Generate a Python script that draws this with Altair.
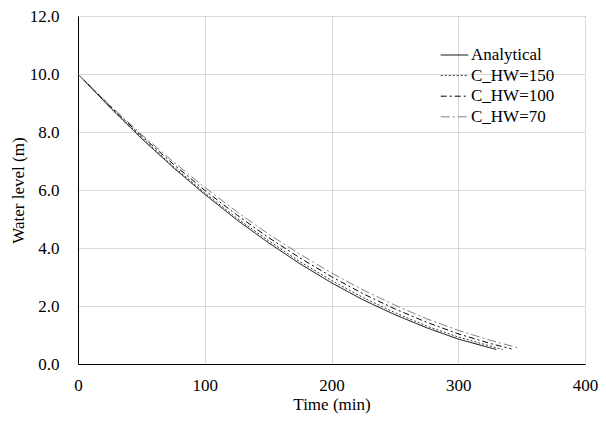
import altair as alt
import pandas as pd

series_names = ["Analytical", "C_HW=150", "C_HW=100", "C_HW=70"]

t_analytical = [0, 25, 50, 75, 100, 125, 150, 175, 200, 225, 250, 275, 300, 330]
h_analytical = [10.0, 8.86, 7.78, 6.78, 5.85, 4.98, 4.19, 3.46, 2.80, 2.21, 1.70, 1.25, 0.86, 0.50]

t_150 = [0, 25, 50, 75, 100, 125, 150, 175, 200, 225, 250, 275, 300, 335]
h_150 = [10.0, 8.87, 7.82, 6.82, 5.90, 5.04, 4.26, 3.53, 2.88, 2.29, 1.77, 1.31, 0.93, 0.50]

t_100 = [0, 25, 50, 75, 100, 125, 150, 175, 200, 225, 250, 275, 300, 325, 342]
h_100 = [10.0, 8.90, 7.87, 6.90, 5.99, 5.15, 4.37, 3.66, 3.01, 2.42, 1.90, 1.44, 1.04, 0.71, 0.52]

t_70 = [0, 25, 50, 75, 100, 125, 150, 175, 200, 225, 250, 275, 300, 325, 348]
h_70 = [10.0, 8.93, 7.92, 6.98, 6.09, 5.26, 4.49, 3.79, 3.14, 2.55, 2.03, 1.56, 1.16, 0.82, 0.55]

x_ticks = [0, 100, 200, 300, 400]
y_ticks = [0, 2, 4, 6, 8, 10, 12]

rows = []
for name, ts, hs in [
    ("Analytical", t_analytical, h_analytical),
    ("C_HW=150", t_150, h_150),
    ("C_HW=100", t_100, h_100),
    ("C_HW=70", t_70, h_70),
]:
    for i, (t, h) in enumerate(zip(ts, hs)):
        rows.append({"series": name, "time": t, "level": h, "order": i})
df = pd.DataFrame(rows)

FONT = "Liberation Serif"
FS = 17

legend_kw = dict(title=None, orient="none", legendX=362, legendY=30,
                 symbolType="stroke", symbolSize=760, symbolStrokeWidth=1,
                 labelFont=FONT, labelFontSize=FS, labelColor="#000000",
                 clipHeight=18, rowPadding=2.6, labelOffset=2)

chart = alt.Chart(df).mark_line(strokeWidth=1).encode(
    x=alt.X("time:Q", scale=alt.Scale(domain=[0, 400], nice=False),
            axis=alt.Axis(values=x_ticks, title="Time (min)", format="d",
                          labelFlush=False, labelPadding=13,
                          titleY=45, titleBaseline="alphabetic")),
    y=alt.Y("level:Q", scale=alt.Scale(domain=[0, 12], nice=False),
            axis=alt.Axis(values=y_ticks, title="Water level (m)", format=".1f",
                          labelFlush=False, labelPadding=19, titlePadding=2)),
    color=alt.Color("series:N",
                    scale=alt.Scale(domain=series_names,
                                    range=["#000000", "#333333", "#000000", "#808080"]),
                    legend=alt.Legend(**legend_kw)),
    strokeDash=alt.StrokeDash("series:N",
                              scale=alt.Scale(domain=series_names,
                                              range=[[1, 0], [2, 2], [6, 3, 2, 3], [9, 3, 2, 3]]),
                              legend=alt.Legend(**legend_kw)),
    order="order:Q",
).properties(
    width=507,
    height=348,
    autosize=alt.AutoSizeParams(type="none"),
    padding={"left": 70, "top": 8, "right": 13, "bottom": 51},
).configure_axis(
    labelFont=FONT, titleFont=FONT, labelFontSize=FS, titleFontSize=FS,
    titleFontWeight="normal", labelColor="#000000", titleColor="#000000",
    grid=True, gridColor="#d9d9d9", gridWidth=1, ticks=False,
    domainColor="#000000", domainWidth=1,
).configure_view(
    stroke="#7f7f7f", strokeWidth=1,
)

chart.save("out.html", embed_options={"renderer": "svg", "actions": False})
